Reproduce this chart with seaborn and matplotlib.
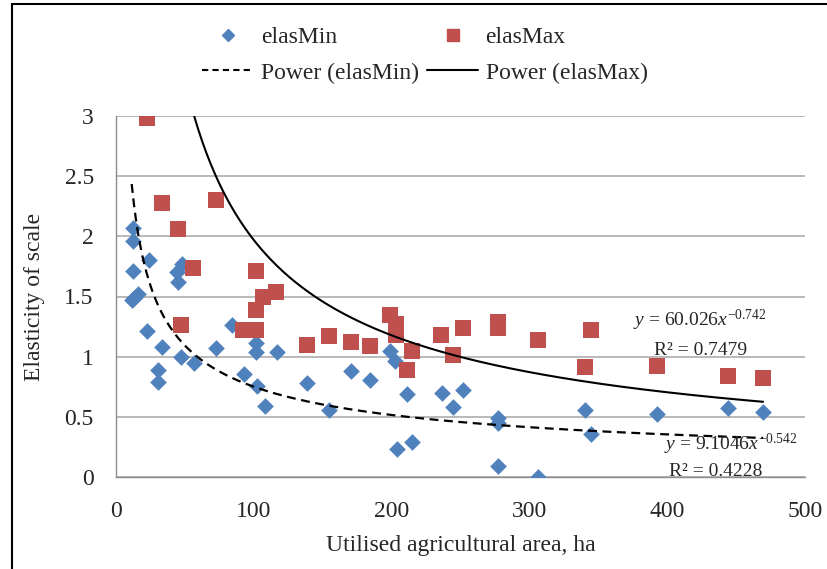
import numpy as np
import pandas as pd
import matplotlib
matplotlib.use('Agg')
import matplotlib.pyplot as plt
from matplotlib.lines import Line2D
import seaborn as sns

# ---------------- data ----------------
# elasMin series (blue diamonds)
min_area = [11.4, 12.6, 12.6, 24.2, 12.6, 47.8, 44.1, 45.3, 13.0, 16.0,
            22.5, 33.2, 30.5, 30.5, 47.3, 56.9, 72.6, 84.1, 92.6, 101.8,
            101.8, 116.9, 102.3, 108.4, 138.7, 154.9, 170.2, 184.0, 198.5, 202.2,
            210.9, 204.0, 214.5, 236.4, 244.8, 251.8, 276.9, 276.9, 276.9, 306.0,
            340.6, 344.7, 392.5, 444.1, 469.6]
min_elas = [1.47, 2.07, 1.96, 1.80, 1.71, 1.77, 1.70, 1.62, 1.49, 1.52,
            1.21, 1.08, 0.89, 0.79, 1.00, 0.95, 1.07, 1.26, 0.86, 1.11,
            1.04, 1.04, 0.76, 0.59, 0.78, 0.56, 0.88, 0.81, 1.05, 0.96,
            0.69, 0.23, 0.29, 0.70, 0.58, 0.72, 0.49, 0.45, 0.09, 0.00,
            0.56, 0.36, 0.52, 0.57, 0.54]

# elasMax series (red squares)
max_area = [22.3, 33.2, 72.7, 44.9, 56.2, 101.6, 47.0, 92.0, 101.8, 101.8,
            107.0, 116.4, 138.7, 154.9, 170.2, 184.0, 198.5, 203.4, 203.4, 215.0,
            210.9, 236.0, 244.6, 251.9, 276.9, 276.9, 306.4, 344.7, 340.6, 392.5,
            444.1, 469.6]
max_elas = [2.98, 2.28, 2.30, 2.06, 1.74, 1.71, 1.26, 1.22, 1.22, 1.39,
            1.50, 1.54, 1.10, 1.17, 1.12, 1.09, 1.35, 1.27, 1.18, 1.05,
            0.89, 1.18, 1.01, 1.24, 1.29, 1.24, 1.14, 1.22, 0.91, 0.92,
            0.84, 0.82]

# power trendlines printed on the chart: y = a * x^b
min_fit_a, min_fit_b, min_r2 = 9.1046, -0.542, 0.4228
max_fit_a, max_fit_b, max_r2 = 60.026, -0.742, 0.7479

x_ticks = [0, 100, 200, 300, 400, 500]
y_ticks = [0, 0.5, 1, 1.5, 2, 2.5, 3]
y_tick_labels = ['0', '0.5', '1', '1.5', '2', '2.5', '3']

BLUE = '#4F81BD'
RED = '#C0504D'
GRID = '#a6a6a6'
TXT = '#262626'

# ---------------- style ----------------
sns.set_style('white')
plt.rcParams['font.family'] = ['Liberation Serif', 'DejaVu Serif']
plt.rcParams['mathtext.fontset'] = 'custom'
plt.rcParams['mathtext.rm'] = 'Liberation Serif'
plt.rcParams['mathtext.it'] = 'Liberation Serif:italic'

fig = plt.figure(figsize=(8.28, 5.69), dpi=100)
ax = fig.add_axes([116 / 828, 1 - 477 / 569, (805 - 116) / 828, (477 - 116) / 569])

df_min = pd.DataFrame({'area': min_area, 'elas': min_elas})
df_max = pd.DataFrame({'area': max_area, 'elas': max_elas})

sns.scatterplot(data=df_min, x='area', y='elas', marker='D', s=72,
                color=BLUE, linewidth=0, ax=ax, zorder=3)
sns.scatterplot(data=df_max, x='area', y='elas', marker='s', s=125,
                color=RED, linewidth=0, ax=ax, zorder=4)

# trendlines from the printed equations
xs_min = np.linspace(min(min_area), max(min_area), 300)
xs_max = np.linspace(min(max_area), max(max_area), 300)
trend = pd.DataFrame({
    'x_min': xs_min, 'y_min': min_fit_a * xs_min ** min_fit_b,
    'x_max': xs_max, 'y_max': max_fit_a * xs_max ** max_fit_b,
})
sns.lineplot(data=trend, x='x_min', y='y_min', ax=ax, color='black', lw=1.6,
             linestyle=(0, (4, 2.5)), sort=False, zorder=5)
sns.lineplot(data=trend, x='x_max', y='y_max', ax=ax, color='black', lw=1.5,
             sort=False, zorder=5)

ax.set_xlim(0, 500)
ax.set_ylim(0, 3)
ax.set_xticks(x_ticks)
ax.set_xticklabels([str(t) for t in x_ticks])
ax.set_yticks(y_ticks)
ax.set_yticklabels(y_tick_labels)
ax.yaxis.grid(True, color=GRID, lw=1.1)
ax.xaxis.grid(False)
ax.set_axisbelow(True)
for side in ['top', 'right']:
    ax.spines[side].set_visible(False)
for side in ['left', 'bottom']:
    ax.spines[side].set_color('#8c8c8c')
    ax.spines[side].set_linewidth(1)
ax.tick_params(axis='both', which='both', direction='out', length=6, width=1,
               color='#8c8c8c', labelsize=17, labelcolor=TXT)
ax.tick_params(axis='y', pad=10)
ax.tick_params(axis='x', pad=11)

ax.set_xlabel('Utilised agricultural area, ha', fontsize=17, color=TXT, labelpad=10)
ax.set_ylabel('Elasticity of scale', fontsize=17, color=TXT, labelpad=14)

# equation labels
ax.text(424, 1.30, f'$y$ = {max_fit_a}$x^{{{max_fit_b}}}$', fontsize=14,
        ha='center', va='center', color=TXT, zorder=6)
ax.text(424, 1.055, f'R² = {max_r2}', fontsize=14,
        ha='center', va='center', color=TXT, zorder=6)
ax.text(446, 0.27, f'$y$ = {min_fit_a}$x^{{{min_fit_b}}}$', fontsize=14,
        ha='center', va='center', color=TXT, zorder=6)
ax.text(435, 0.045, f'R² = {min_r2}', fontsize=14,
        ha='center', va='center', color=TXT, zorder=6)

# legend above the plot
handles = [
    Line2D([], [], marker='D', color=BLUE, linestyle='none', markersize=6),
    Line2D([], [], color='black', lw=1.5, linestyle=(0, (3, 2))),
    Line2D([], [], marker='s', color=RED, linestyle='none', markersize=9),
    Line2D([], [], color='black', lw=1.5),
]
labels = ['elasMin', 'Power (elasMin)', 'elasMax', 'Power (elasMax)']
fig.legend(handles, labels, ncol=2, loc='center', bbox_to_anchor=(425 / 828, 1 - 55 / 569),
           frameon=False, fontsize=17, handlelength=2.2, handletextpad=0.3,
           columnspacing=0.3, labelspacing=0.6, labelcolor=TXT)

# chart-area border (left and top only visible in the reference crop)
fig.add_artist(Line2D([12 / 828, 12 / 828], [0, 1 - 4 / 569], color='black', lw=1.5,
                      transform=fig.transFigure))
fig.add_artist(Line2D([12 / 828, 1], [1 - 4 / 569, 1 - 4 / 569], color='black', lw=1.5,
                      transform=fig.transFigure))

fig.savefig('out.png', dpi=100)
